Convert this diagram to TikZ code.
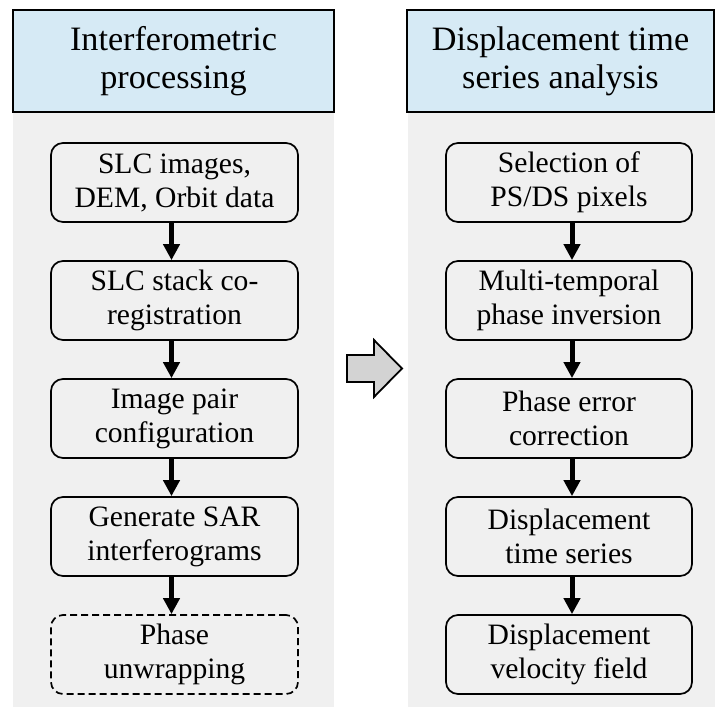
\documentclass[tikz,border=0pt]{standalone}
\usepackage{fontspec}
\setmainfont{Liberation Serif}
\usetikzlibrary{arrows.meta}
\definecolor{headblue}{RGB}{214,234,245}
\definecolor{panelgray}{RGB}{240,240,240}
\definecolor{arrowgray}{RGB}{211,211,211}
\begin{document}
\begin{tikzpicture}[x=1pt,y=-1pt,
  stepbox/.style={draw, line width=1.7pt, rounded corners=12pt, fill=panelgray,
    minimum height=79pt, align=center, inner sep=0pt,
    font=\fontsize{29.6}{34}\selectfont},
  leftbox/.style={stepbox, minimum width=247pt},
  rightbox/.style={stepbox, minimum width=246pt},
  header/.style={draw, line width=1.8pt, fill=headblue, align=center, inner sep=0pt,
    minimum height=102pt, font=\fontsize{34.2}{38.3}\selectfont},
  flow/.style={line width=5pt, -{Triangle[width=16pt,length=16pt]}}]
\useasboundingbox (0,0) rectangle (715,707);

% column panels
\fill[panelgray] (13,112) rectangle (334,707);
\fill[panelgray] (408,112) rectangle (715,707);

% column titles
\node[header, minimum width=321pt] (h1) at (173.5,61) {Interferometric\\processing};
\node[header, minimum width=307pt] (h2) at (560.5,61) {Displacement time\\series analysis};

% interferometric processing chain
\node[leftbox] (a1) at (174.5,182.5) {SLC images,\\DEM, Orbit data};
\node[leftbox] (a2) at (174.5,300.5) {SLC stack co-\\registration};
\node[leftbox] (a3) at (174.5,418.5) {Image pair\\configuration};
\node[leftbox] (a4) at (174.5,536.5) {Generate SAR\\interferograms};
\node[leftbox, dashed, dash pattern=on 7pt off 4pt] (a5) at (174.5,654.5) {Phase\\unwrapping};

% time series chain
\node[rightbox] (b1) at (569,182.5) {Selection of\\PS/DS pixels};
\node[rightbox] (b2) at (569,300.5) {Multi-temporal\\phase inversion};
\node[rightbox] (b3) at (569,418.5) {Phase error\\correction};
\node[rightbox] (b4) at (569,536.5) {Displacement\\time series};
\node[rightbox] (b5) at (569,654.5) {Displacement\\velocity field};

\foreach \u/\v in {a1/a2,a2/a3,a3/a4,a4/a5}
  \draw[flow] ([xshift=-3pt]\u.south) -- ([xshift=-3pt]\v.north);
\foreach \u/\v in {b1/b2,b2/b3,b3/b4,b4/b5}
  \draw[flow] ([xshift=3pt]\u.south) -- ([xshift=3pt]\v.north);

% block arrow between the columns
\draw[line width=1.8pt, fill=arrowgray, line join=miter]
  (347,355) -- (374,355) -- (374,340) -- (402,368.5) -- (374,397)
  -- (374,382) -- (347,382) -- cycle;
\end{tikzpicture}
\end{document}
